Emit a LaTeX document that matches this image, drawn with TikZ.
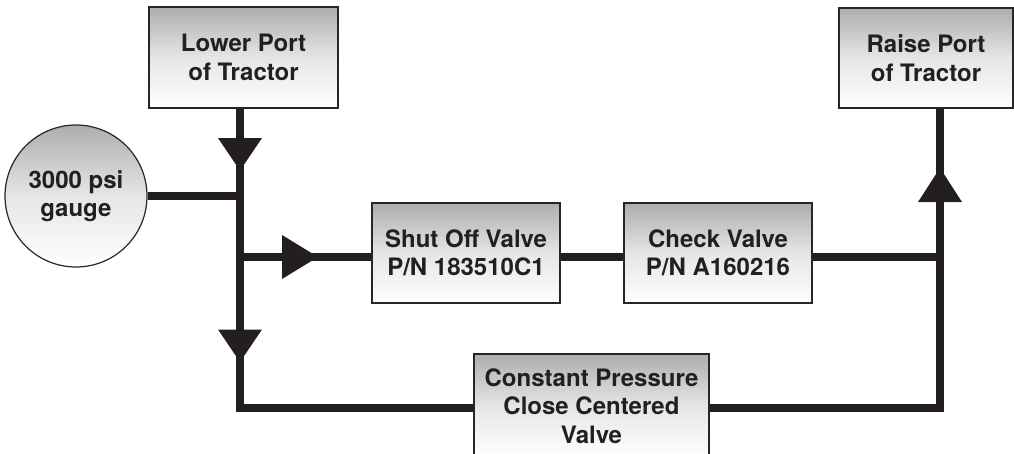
\documentclass[tikz,border=0pt]{standalone}
\usepackage{fontspec}
\setmainfont{TeX Gyre Heros}
\begin{document}
\begin{tikzpicture}[x=1pt,y=-1pt,
  linecol/.style={draw=pipe,line width=7.5pt,line join=miter},
  box/.style={draw=black!85,line width=1.2pt,rectangle,inner sep=0pt,
    top color=black!32,bottom color=white,middle color=black!10,
    align=center,font=\fontsize{24}{28.5}\selectfont\bfseries,text=pipe},
  gaugebox/.style={box,circle},
  tri/.style={fill=pipe}]
\definecolor{pipe}{HTML}{231F20}
\useasboundingbox (0,0) rectangle (1014,453);
% nodes
\node[box,minimum width=189pt,minimum height=101pt] (lower) at (243.5,57.5) {Lower Port\\of Tractor};
\node[box,minimum width=174pt,minimum height=100pt] (raise) at (926,58) {Raise Port\\of Tractor};
\node[gaugebox,minimum size=142pt] (gauge) at (76,196) {3000 psi\\gauge};
\node[box,minimum width=188pt,minimum height=100pt] (shut) at (466,253) {Shut Off Valve\\P/N 183510C1};
\node[box,minimum width=188pt,minimum height=100pt] (check) at (718,253) {Check Valve\\P/N A160216};
\node[box,minimum width=235pt,minimum height=104pt] (cp) at (591.5,406) {Constant Pressure\\Close Centered\\Valve};
% junction coordinates
\coordinate (j1) at (240,196);
\coordinate (j2) at (240,257);
\coordinate (jb) at (240,408);
\coordinate (jr) at (940,257);
\coordinate (jrb) at (940,408);
% connectors
\draw[linecol] (j1 |- lower.south) -- (jb) -- (jb -| cp.west);
\draw[linecol] (gauge.east |- j1) -- (j1);
\draw[linecol] (j2) -- (j2 -| shut.west);
\draw[linecol] (shut.east |- j2) -- (check.west |- j2);
\draw[linecol] (check.east |- jr) -- (jr);
\draw[linecol] (jrb -| cp.east) -- (jrb) -- (jr |- raise.south);
% arrow heads
\coordinate (a1) at (240,154);
\coordinate (a2) at (240,345.5);
\coordinate (a3) at (300,257);
\coordinate (a4) at (940,185);
\fill[tri,shift={(a1)}] (-22,-16) -- (22,-16) -- (0,16.5) -- cycle;
\fill[tri,shift={(a2)}] (-22,-16) -- (22,-16) -- (0,16.5) -- cycle;
\fill[tri,shift={(a3)}] (-18,-22) -- (-18,22) -- (18,0) -- cycle;
\fill[tri,shift={(a4)}] (-22,17) -- (22,17) -- (0,-17) -- cycle;
\end{tikzpicture}
\end{document}
